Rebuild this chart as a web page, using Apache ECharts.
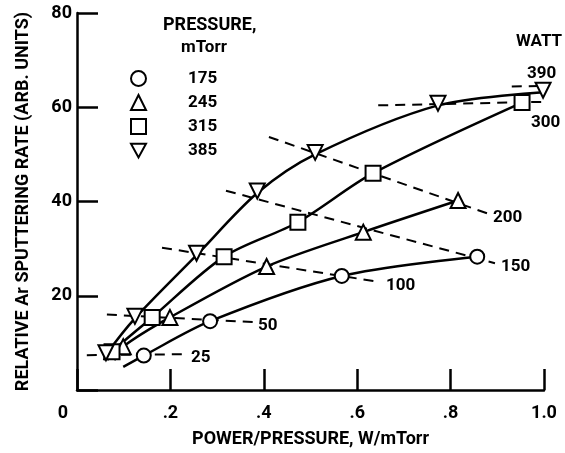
<!DOCTYPE html>
<html>
  <head>
    <meta charset="utf-8" />
    <title>Ar sputtering rate</title>
    <script src="https://cdnjs.cloudflare.com/ajax/libs/echarts/6.0.0/echarts.min.js"></script>
    <style>
      html, body { margin: 0; padding: 0; background: #fff; }
    </style>
  </head>
  <body>
    <div id="main" style="width: 565px;height: 453px;"></div>
    <script type="text/javascript">
      // pressure curves (mTorr): first point is where the drawn curve starts, no marker there
      var pressures = ['175', '245', '315', '385']
      var start175 = [0.099, 4.9]
      var points175 = [[0.143, 7.3], [0.285, 14.6], [0.567, 24.2], [0.857, 28.3]]
      var start245 = [0.08, 6.3]
      var points245 = [[0.099, 9.2], [0.199, 15.4], [0.406, 26.2], [0.613, 33.5], [0.816, 40.2]]
      var start315 = [0.065, 6.3]
      var points315 = [[0.075, 8.1], [0.161, 15.4], [0.315, 28.3], [0.473, 35.6], [0.634, 46.0], [0.953, 61.0]]
      var start385 = [0.058, 6.3]
      var points385 = [[0.062, 7.5], [0.124, 15.2], [0.256, 28.6], [0.386, 41.8], [0.51, 50.0], [0.773, 60.4], [0.998, 63.2]]

      // constant power lines (watt), dashed
      var watts = ['25', '50', '100', '150', '200', '300', '390']
      var wattLines = [
        [[0.021, 7.4], [0.231, 7.6]],
        [[0.064, 16.0], [0.381, 14.4]],
        [[0.182, 30.2], [0.649, 22.9]],
        [[0.319, 42.3], [0.895, 26.9]],
        [[0.411, 53.7], [0.878, 37.5]],
        [[0.645, 60.4], [1.024, 61.2]],
        [[0.931, 64.4], [1.024, 64.6]]
      ]

      var xTicks = ['0', '.2', '.4', '.6', '.8', '1.0']

      var font = "Roboto, 'Liberation Sans', sans-serif"
      var invTri = 'path://M0,0 L12,0 L6,11 Z'
      var symbols = ['circle', 'triangle', 'rect', invTri]
      var starts = [start175, start245, start315, start385]
      var pointSets = [points175, points245, points315, points385]

      var myChart = echarts.init(document.getElementById('main'))
      var series = []

      wattLines.forEach(function (line, i) {
        var lbl = { show: true, formatter: watts[i], fontFamily: font, fontWeight: 'bold', fontSize: 17, color: '#000', distance: 6, offset: [0, 4] }
        if (watts[i] === '50') lbl.offset = [-3, 4]
        if (watts[i] === '300') lbl.offset = [-20, 21]
        if (watts[i] === '390') lbl.offset = [-24, -12]
        series.push({
          type: 'line',
          data: line,
          symbol: 'none',
          clip: false,
          z: 1,
          silent: true,
          lineStyle: { color: '#000', width: 2, type: [10, 7] },
          endLabel: lbl
        })
      })

      pressures.forEach(function (p, i) {
        var data = [{ value: starts[i], symbol: 'none' }].concat(pointSets[i])
        series.push({
          name: p,
          type: 'line',
          data: data,
          smooth: 0.3,
          symbol: symbols[i],
          symbolSize: i === 0 ? 14 : 15,
          symbolOffset: i === 3 ? [0, -2] : [0, 0],
          showAllSymbol: true,
          clip: false,
          z: 3,
          lineStyle: { color: '#000', width: 2.5 },
          itemStyle: { color: '#fff', borderColor: '#000', borderWidth: 2 }
        })
      })

      var option = {
        animation: false,
        backgroundColor: '#fff',
        grid: { left: 77, right: 21, top: 13, bottom: 57 },
        legend: {
          data: pressures.map(function (p, i) { return { name: p, icon: symbols[i] } }),
          orient: 'vertical',
          left: 130,
          top: 70,
          padding: 0,
          itemWidth: 15,
          itemHeight: 15,
          itemGap: 7,
          selectedMode: false,
          itemStyle: { color: '#fff', borderColor: '#000', borderWidth: 2 },
          textStyle: { fontFamily: font, fontWeight: 'bold', fontSize: 17, lineHeight: 15, color: '#000', padding: [0, 0, 0, 37] }
        },
        graphic: [
          { type: 'text', left: 163, top: 16, style: { text: 'PRESSURE,', font: 'bold 18px ' + font, fill: '#000' } },
          { type: 'text', left: 181, top: 39, style: { text: 'mTorr', font: 'bold 17px ' + font, fill: '#000' } },
          { type: 'text', left: 516, top: 33, style: { text: 'WATT', font: 'bold 17px ' + font, fill: '#000' } }
        ],
        xAxis: {
          type: 'value',
          min: 0,
          max: 1,
          interval: 0.2,
          name: 'POWER/PRESSURE, W/mTorr',
          nameLocation: 'middle',
          nameGap: 40,
          nameTextStyle: { fontFamily: font, fontWeight: 'bold', fontSize: 18, color: '#000' },
          axisLine: { lineStyle: { color: '#000', width: 2.5 } },
          axisTick: { inside: true, length: 21, lineStyle: { color: '#000', width: 2.5 } },
          splitLine: { show: false },
          axisLabel: {
            fontFamily: font, fontWeight: 'bold', fontSize: 18, color: '#000', margin: 14,
            formatter: function (v) {
              var s = xTicks[Math.round(v * 5)]
              return v === 0 ? '{o|' + s + '}' : s
            },
            rich: { o: { fontFamily: font, fontWeight: 'bold', fontSize: 18, color: '#000', padding: [0, 28, 0, 0] } }
          }
        },
        yAxis: {
          type: 'value',
          min: 0,
          max: 80,
          interval: 20,
          name: 'RELATIVE Ar SPUTTERING RATE (ARB. UNITS)',
          nameLocation: 'middle',
          nameGap: 45,
          nameTextStyle: { fontFamily: font, fontWeight: 'bold', fontSize: 18, color: '#000' },
          axisLine: { show: true, lineStyle: { color: '#000', width: 2.5 } },
          axisTick: { show: true, inside: true, length: 21, lineStyle: { color: '#000', width: 2.5 } },
          splitLine: { show: false },
          axisLabel: {
            fontFamily: font, fontWeight: 'bold', fontSize: 18, color: '#000', margin: 5,
            padding: [5, 0, 0, 0],
            formatter: function (v) { return v === 0 ? '' : String(v) }
          }
        },
        series: series
      }

      myChart.setOption(option)
    </script>
  </body>
</html>
